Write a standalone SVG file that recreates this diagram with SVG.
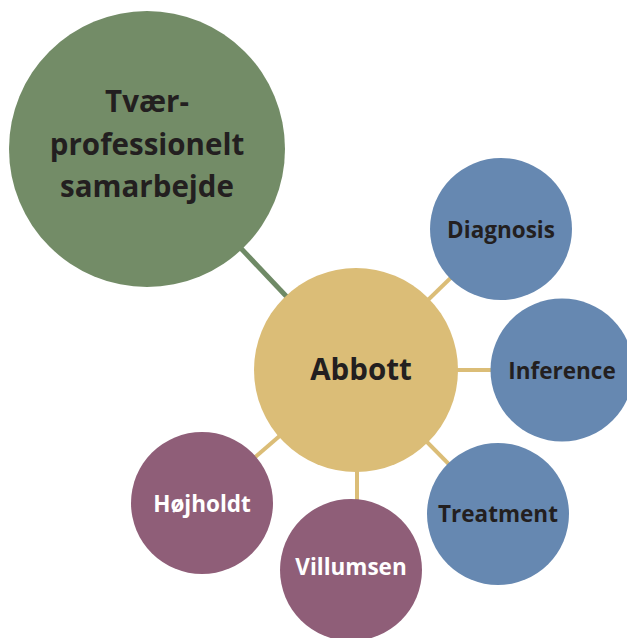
<svg xmlns="http://www.w3.org/2000/svg" width="627" height="638" viewBox="0 0 627 638">
<style>
.t{font-family:"Open Sans","Noto Sans","DejaVu Sans",sans-serif;font-weight:700;text-anchor:middle;fill:#231f20}
.s{font-size:22.5px}
.w{fill:#ffffff}
.gold{stroke:#dbbd77;stroke-width:4}
</style>
<rect width="627" height="638" fill="#ffffff"/>
<g id="connectors">
<line x1="147" y1="149" x2="356" y2="370" stroke="#6f8a66" stroke-width="5"/>
<line class="gold" x1="356" y1="370" x2="501" y2="229"/>
<line class="gold" x1="356" y1="370" x2="562" y2="370"/>
<line class="gold" x1="356" y1="370" x2="498" y2="514"/>
<line class="gold" x1="357" y1="370" x2="357" y2="510"/>
<line class="gold" x1="356" y1="370" x2="202" y2="503"/>
</g>
<g id="tvaer">
<circle cx="147" cy="149" r="138" fill="#738c67"/>
<text class="t" x="147" y="112" font-size="29.5">Tvær-</text>
<text class="t" x="147" y="155" font-size="29.5">professionelt</text>
<text class="t" x="147" y="197" font-size="29.5">samarbejde</text>
</g>
<g id="abbott">
<circle cx="356" cy="370" r="102" fill="#dbbd77"/>
<text class="t" x="361" y="380" font-size="29.5">Abbott</text>
</g>
<g id="diagnosis">
<circle cx="501" cy="229" r="71" fill="#6688b1"/>
<text class="t s" x="501" y="238">Diagnosis</text>
</g>
<g id="inference">
<circle cx="562" cy="370" r="71.5" fill="#6688b1"/>
<text class="t s" x="562" y="379">Inference</text>
</g>
<g id="treatment">
<circle cx="498" cy="514" r="71" fill="#6688b1"/>
<text class="t s" x="498" y="522">Treatment</text>
</g>
<g id="villumsen">
<circle cx="351" cy="570" r="71" fill="#8f5e78"/>
<text class="t s w" x="351" y="575">Villumsen</text>
</g>
<g id="hojholdt">
<circle cx="202" cy="503" r="71" fill="#8f5e78"/>
<text class="t s w" x="202" y="512">Højholdt</text>
</g>
</svg>
